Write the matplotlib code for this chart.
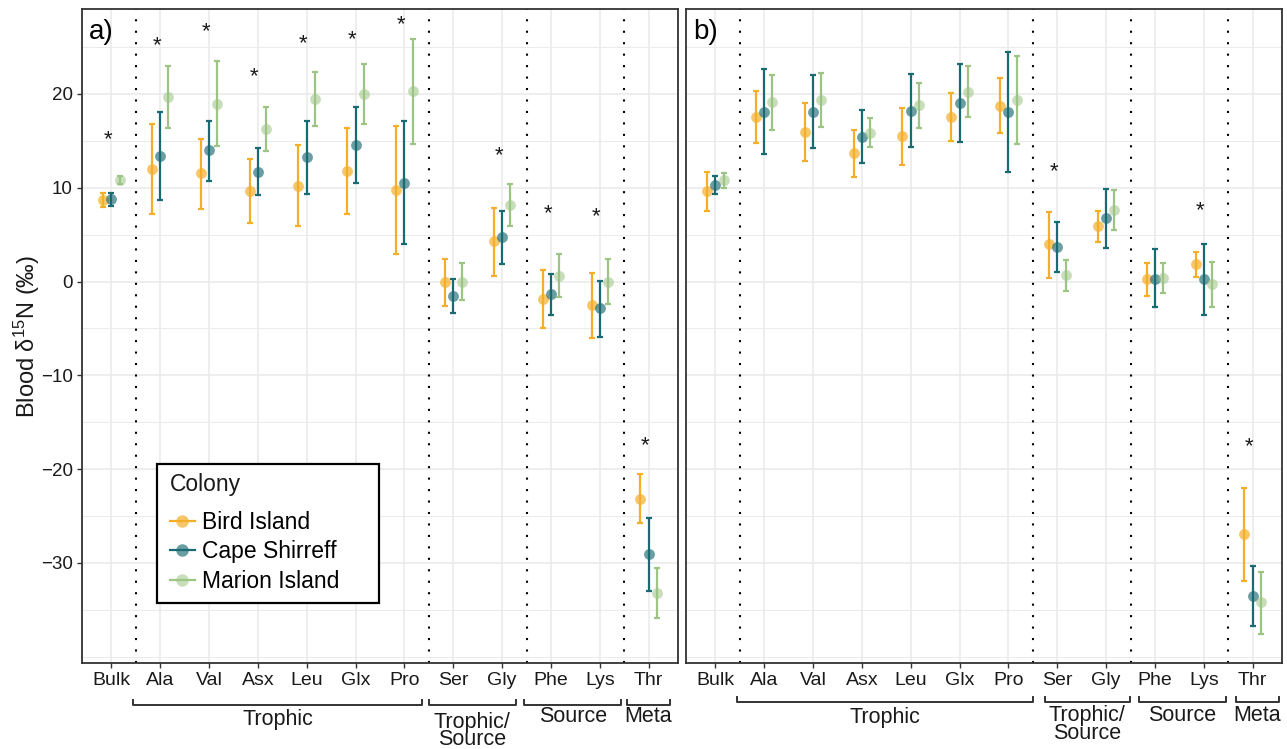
import matplotlib.pyplot as plt
import matplotlib.transforms as mtransforms
from matplotlib.lines import Line2D
from matplotlib.patches import Rectangle
from matplotlib.colors import to_rgba
import numpy as np

plt.rcParams['font.family'] = ['Liberation Sans', 'DejaVu Sans']
plt.rcParams['mathtext.default'] = 'regular'

amino = ['Bulk', 'Ala', 'Val', 'Asx', 'Leu', 'Glx', 'Pro', 'Ser', 'Gly', 'Phe', 'Lys', 'Thr']
colonies = ['Bird Island', 'Cape Shirreff', 'Marion Island']

# panel a) mean and error bar limits
a_bird_mean = [8.67, 12.0, 11.52, 9.7, 10.2, 11.76, 9.77, -0.06, 4.27, -1.84, -2.51, -23.15]
a_bird_lo = [7.9, 7.2, 7.71, 6.25, 5.9, 7.2, 2.92, -2.59, 0.58, -4.96, -6.0, -25.74]
a_bird_hi = [9.39, 16.77, 15.2, 13.04, 14.53, 16.38, 16.56, 2.42, 7.82, 1.25, 0.93, -20.48]
a_cape_mean = [8.75, 13.36, 13.97, 11.69, 13.25, 14.53, 10.55, -1.52, 4.7, -1.31, -2.87, -29.08]
a_cape_lo = [8.1, 8.67, 10.7, 9.2, 9.35, 10.48, 4.0, -3.33, 1.85, -3.58, -5.89, -32.95]
a_cape_hi = [9.39, 18.05, 17.09, 14.25, 17.09, 18.58, 17.12, 0.29, 7.53, 0.79, 0.04, -25.17]
a_marion_mean = [10.84, 19.65, 18.97, 16.27, 19.43, 19.97, 20.29, 0.0, 8.14, 0.58, -0.03, -33.23]
a_marion_lo = [10.45, 16.38, 14.46, 13.9, 16.6, 16.77, 14.64, -1.98, 5.9, -1.69, -2.37, -35.83]
a_marion_hi = [11.23, 22.95, 23.48, 18.58, 22.34, 23.2, 25.86, 1.96, 10.41, 2.92, 2.42, -30.57]
a_star_cats = ['Bulk', 'Ala', 'Val', 'Asx', 'Leu', 'Glx', 'Pro', 'Gly', 'Phe', 'Lys', 'Thr']
a_star_y = [15.1, 25.1, 26.68, 21.88, 25.3, 25.8, 27.4, 13.43, 7.26, 6.9, -17.5]

# panel b)
b_bird_mean = [9.66, 17.55, 15.95, 13.68, 15.49, 17.55, 18.76, 3.95, 5.87, 0.22, 1.82, -26.95]
b_bird_lo = [7.53, 14.78, 12.83, 11.16, 12.43, 15.0, 15.84, 0.4, 4.23, -1.52, 0.47, -31.92]
b_bird_hi = [11.69, 20.32, 19.0, 16.16, 18.47, 20.11, 21.7, 7.43, 7.53, 1.99, 3.16, -22.0]
b_cape_mean = [10.27, 18.08, 18.08, 15.42, 18.15, 19.04, 18.08, 3.7, 6.75, 0.26, 0.22, -33.52]
b_cape_lo = [9.31, 13.57, 14.25, 12.6, 14.29, 14.85, 11.69, 1.03, 3.59, -2.76, -3.55, -36.71]
b_cape_hi = [11.26, 22.66, 22.02, 18.3, 22.13, 23.2, 24.47, 6.36, 9.84, 3.42, 3.98, -30.29]
b_marion_mean = [10.77, 19.15, 19.4, 15.88, 18.79, 20.22, 19.36, 0.65, 7.6, 0.4, -0.31, -34.19]
b_marion_lo = [10.02, 16.16, 16.48, 14.32, 16.38, 17.52, 14.67, -0.99, 5.48, -1.24, -2.7, -37.53]
b_marion_hi = [11.58, 22.02, 22.24, 17.44, 21.17, 22.98, 24.05, 2.31, 9.74, 1.96, 2.07, -30.96]
b_star_cats = ['Ser', 'Lys', 'Thr']
b_star_y = [11.76, 7.53, -17.61]

groups = ['Trophic', 'Trophic/\nSource', 'Source', 'Meta']

bar_cols = ['#F4AE2A', '#1A6A72', '#9CC484']
pt_cols = [to_rgba('#F4AE2A', 0.7), to_rgba('#1A6A72', 0.65), to_rgba('#9CC484', 0.55)]
offsets = [-0.17, 0.0, 0.17]

fig = plt.figure(figsize=(12.87, 7.49), dpi=100)
axa = fig.add_axes([82/1287, 86/749, 596/1287, 654/749])
axb = fig.add_axes([686/1287, 86/749, 596/1287, 654/749])

x = np.arange(1, len(amino) + 1)


def draw_panel(ax, means, los, his, star_cats, star_y, tag):
    ax.set_xlim(0.4, 12.6)
    ax.set_ylim(-40.66, 29.05)
    ax.set_yticks([-30, -20, -10, 0, 10, 20])
    ax.set_yticks(np.arange(-40, 30, 5), minor=True)
    ax.set_xticks(x)
    ax.set_xticklabels(amino)
    ax.grid(which='major', color='#EBEBEB', lw=1.2, zorder=0)
    ax.grid(which='minor', axis='y', color='#EBEBEB', lw=0.7, zorder=0)
    ax.set_axisbelow(True)
    ax.tick_params(axis='x', which='minor', bottom=False)
    ax.tick_params(axis='both', which='major', length=3.5, width=1, color='#333333',
                   labelsize=14, labelcolor='#1a1a1a', pad=3)
    ax.tick_params(axis='y', which='major', labelsize=13.5)
    ax.tick_params(axis='y', which='minor', length=0)
    for s in ax.spines.values():
        s.set_color('#333333')
        s.set_linewidth(1.3)
    for v in [1.5, 7.5, 9.5, 11.5]:
        ax.axvline(v, color='black', lw=1.5, linestyle=(0, (1, 4.5)), zorder=2)
    for i in range(3):
        xs = x + offsets[i]
        m = np.array(means[i])
        err = [m - np.array(los[i]), np.array(his[i]) - m]
        ax.errorbar(xs, m, yerr=err, fmt='none', ecolor=bar_cols[i], elinewidth=1.6,
                    capsize=2.2, capthick=1.6, zorder=3 + i)
        ax.plot(xs, m, 'o', ms=7.8, color=pt_cols[i], mec='none', zorder=3 + i)
    for c, yv in zip(star_cats, star_y):
        ax.text(amino.index(c) + 1 - 0.07, yv, '*', ha='center', va='center',
                fontsize=16, color='#1a1a1a', zorder=6)
    ax.text(0.012, 0.985, tag, transform=ax.transAxes, ha='left', va='top', fontsize=20)


draw_panel(axa, [a_bird_mean, a_cape_mean, a_marion_mean],
           [a_bird_lo, a_cape_lo, a_marion_lo],
           [a_bird_hi, a_cape_hi, a_marion_hi], a_star_cats, a_star_y, 'a)')
draw_panel(axb, [b_bird_mean, b_cape_mean, b_marion_mean],
           [b_bird_lo, b_cape_lo, b_marion_lo],
           [b_bird_hi, b_cape_hi, b_marion_hi], b_star_cats, b_star_y, 'b)')
axb.tick_params(axis='y', which='both', left=False, labelleft=False)

fig.text(27/1287, (86 + 327)/749, 'Blood δ$^{15}$N (‰)', rotation=90, ha='center',
         va='center', fontsize=17, color='#1a1a1a')


# brackets under the axis
def brackets(ax, starts, ends, ybr, ylab):
    tr = mtransforms.blended_transform_factory(ax.transData, ax.transAxes)
    for g, s, e, yl in zip(groups, starts, ends, ylab):
        ax.plot([s, s, e, e], [ybr + 0.008, ybr, ybr, ybr + 0.008], color='#333333',
                lw=1.4, transform=tr, clip_on=False)
        ax.text((s + e) / 2, yl, g, transform=tr, ha='center', va='center',
                fontsize=15.5, color='#1a1a1a', linespacing=0.8)


brackets(axa, [1.45, 7.5, 9.45, 11.55], [7.36, 9.28, 11.44, 12.44], -0.064,
         [-0.087, -0.104, -0.082, -0.082])
brackets(axb, [1.45, 7.74, 9.67, 11.65], [7.5, 9.49, 11.45, 12.53], -0.060,
         [-0.084, -0.094, -0.08, -0.08])

# legend: framed box, title and entries
axa.add_patch(Rectangle((0.1258, 0.0917), 0.3725, 0.2123, transform=axa.transAxes,
                        facecolor='white', edgecolor='black', lw=1.6, zorder=9))
axa.text(0.148, 0.273, 'Colony', transform=axa.transAxes, ha='left', va='center',
         fontsize=16.5, color='#1a1a1a', zorder=10)
handles = [Line2D([], [], color=bar_cols[i], lw=1.6, marker='o', ms=9,
                  markerfacecolor=pt_cols[i], markeredgecolor='none') for i in range(3)]
leg = axa.legend(handles, colonies, loc='upper left', bbox_to_anchor=(0.147, 0.233),
                 borderaxespad=0, borderpad=0, fontsize=16.5, frameon=False,
                 handlelength=1.1, handletextpad=0.3, labelspacing=0.3)
leg.set_zorder(10)

fig.savefig('out.png', dpi=100)
